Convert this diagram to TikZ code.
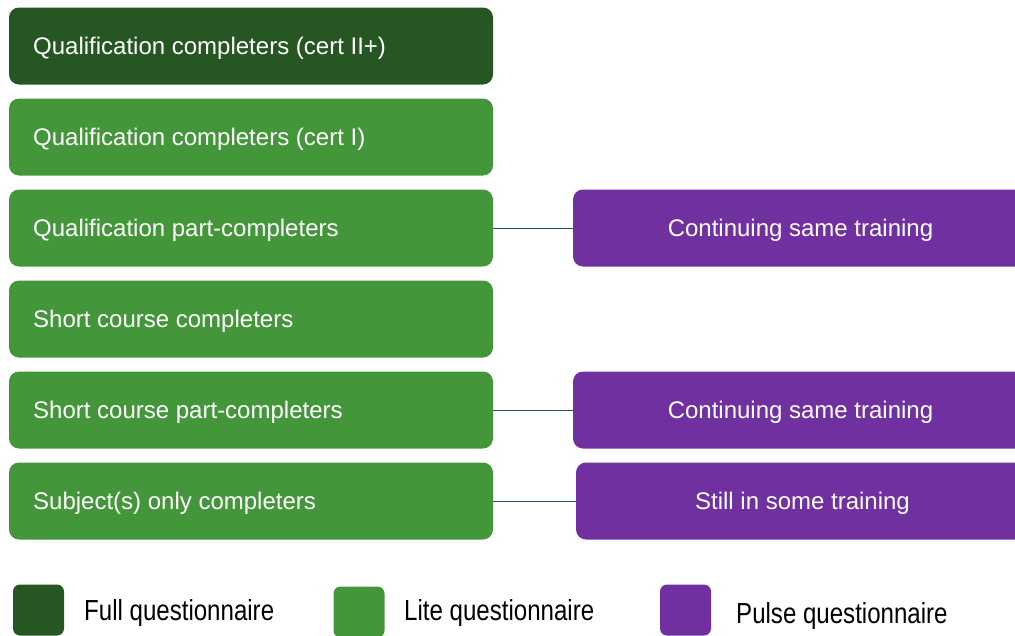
\documentclass[tikz,border=0pt]{standalone}
\usepackage{fontspec}
\usepackage{graphicx}
\setmainfont{Liberation Sans}
\definecolor{darkgreen}{HTML}{265723}
\definecolor{litegreen}{HTML}{43963A}
\definecolor{pulse}{HTML}{7030A0}
\definecolor{linkblue}{HTML}{1F4E79}
\begin{document}
\begin{tikzpicture}[x=1pt,y=-1pt,
  gbox/.style={rounded corners=10pt,minimum width=484pt,minimum height=77pt,inner sep=0pt},
  gtxt/.style={anchor=base west,text=white,inner sep=0pt,font=\fontsize{24}{28}\selectfont},
  pbox/.style={fill=pulse,rounded corners=10pt,minimum height=77pt,inner sep=0pt},
  ptxt/.style={anchor=base,text=white,inner sep=0pt,font=\fontsize{24}{28}\selectfont},
  link/.style={draw=linkblue,line width=1pt},
  legsq/.style={rounded corners=7pt,minimum width=51pt,minimum height=51pt,inner sep=0pt},
  legtxt/.style={anchor=base west,inner sep=0pt,font=\fontsize{29}{33}\selectfont}]
\useasboundingbox (0,0) rectangle (1015,635);
\begin{scope}
\clip (0,0) rectangle (1015,635);
\node[gbox,fill=darkgreen] (q2) at (251,46) {};
\node[gtxt] (tq2) at (33,54.5) {Qualification completers (cert II+)};
\node[gbox,fill=litegreen] (q1) at (251,137) {};
\node[gtxt] (tq1) at (33,145.5) {Qualification completers (cert I)};
\node[gbox,fill=litegreen] (qp) at (251,228) {};
\node[gtxt] (tqp) at (33,236.5) {Qualification part-completers};
\node[gbox,fill=litegreen] (sc) at (251,319) {};
\node[gtxt] (tsc) at (33,327.5) {Short course completers};
\node[gbox,fill=litegreen] (sp) at (251,410) {};
\node[gtxt] (tsp) at (33,418.5) {Short course part-completers};
\node[gbox,fill=litegreen] (so) at (251,501) {};
\node[gtxt] (tso) at (33,509.5) {Subject(s) only completers};
\node[pbox,minimum width=455pt] (c1) at (800.5,228) {};
\node[ptxt] (tc1) at (800.5,236.5) {Continuing same training};
\node[pbox,minimum width=455pt] (c2) at (800.5,410) {};
\node[ptxt] (tc2) at (800.5,418.5) {Continuing same training};
\node[pbox,minimum width=452pt] (st) at (802,501) {};
\node[ptxt] (tst) at (802.5,509.5) {Still in some training};
\draw[link] (qp.east) -- (c1.west);
\draw[link] (sp.east) -- (c2.west);
\draw[link] (so.east) -- (st.west);
\node[legsq,fill=darkgreen] (l1) at (38.5,610) {};
\node[legsq,fill=litegreen] (l2) at (359,612) {};
\node[legsq,fill=pulse] (l3) at (685.5,610) {};
\node[legtxt] (t1) at (84,620.5) {\scalebox{0.83}[1]{Full questionnaire}};
\node[legtxt] (t2) at (404,620.5) {\scalebox{0.83}[1]{Lite questionnaire}};
\node[legtxt] (t3) at (736,623.5) {\scalebox{0.83}[1]{Pulse questionnaire}};
\end{scope}
\end{tikzpicture}
\end{document}
